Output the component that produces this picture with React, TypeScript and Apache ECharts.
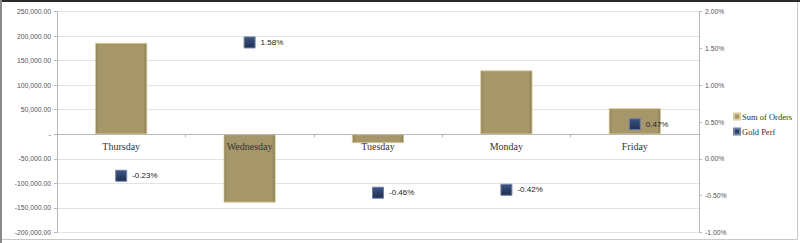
import React, { useEffect, useRef } from "react";
import * as echarts from "echarts";

const categories = ["Thursday", "Wednesday", "Tuesday", "Monday", "Friday"];
const sumOfOrders = [186000, -139000, -18000, 130000, 53000];
const goldPerf = [-0.23, 1.58, -0.46, -0.42, 0.47];

const Y_MIN = -200000;
const Y_MAX = 250000;

export default function App() {
  const ref = useRef<HTMLDivElement>(null);
  useEffect(() => {
    const chart = echarts.init(ref.current!, null, { renderer: "svg" });
    const gridTop = 11.5;
    const gridBottom = 10.5;
    const plotH = 243 - gridTop - gridBottom;
    const zeroFromBottom = (plotH * (0 - Y_MIN)) / (Y_MAX - Y_MIN);
    const barColor = new echarts.graphic.LinearGradient(0, 0, 1, 0, [
      { offset: 0, color: "#8c7e55" },
      { offset: 0.06, color: "#a6976a" },
      { offset: 0.94, color: "#a6976a" },
      { offset: 1, color: "#867850" },
    ]);
    chart.setOption({
      animation: false,
      backgroundColor: "#ffffff",
      graphic: [
        { type: "rect", shape: { x: 1.5, y: 1.5, width: 796, height: 238 }, style: { fill: "none", stroke: "#c8c8c8", lineWidth: 1 }, silent: true },
        { type: "rect", shape: { x: 0, y: 0, width: 800, height: 2 }, style: { fill: "#2a2a2a" }, silent: true },
        { type: "rect", shape: { x: 0, y: 0, width: 2, height: 243 }, style: { fill: "#8a8a8a" }, silent: true },
      ],
      grid: { left: 57, right: 101, top: gridTop, bottom: gridBottom, containLabel: false, outerBoundsMode: "none" },
      legend: {
        orient: "vertical",
        left: 733,
        top: 112,
        padding: 0,
        itemWidth: 6,
        itemHeight: 6,
        itemGap: 6,
        icon: "rect",
        textStyle: { fontFamily: "Liberation Serif", fontSize: 8.5, color: "#333", padding: [0, 0, 0, -3] },
        data: [
          { name: "Sum of Orders", itemStyle: { color: "#a6976a" } },
          { name: "Gold Perf", itemStyle: { color: "#2b3e66" } },
        ],
      },
      xAxis: {
        type: "category",
        data: categories,
        position: "bottom",
        offset: -zeroFromBottom,
        axisLine: { onZero: false, lineStyle: { color: "#b8b8b8" } },
        axisTick: { show: true, length: 3, lineStyle: { color: "#b8b8b8" } },
        axisLabel: { fontFamily: "Liberation Serif", fontSize: 10, color: "#333", margin: 7 },
        splitLine: { show: false },
        z: 5,
      },
      yAxis: [
        {
          type: "value",
          min: Y_MIN,
          max: Y_MAX,
          interval: 50000,
          axisLine: { show: true, lineStyle: { color: "#b8b8b8" } },
          axisTick: { show: true, length: 3, lineStyle: { color: "#b8b8b8" } },
          splitLine: { show: true, lineStyle: { color: "#e3e3e3", width: 1 } },
          axisLabel: {
            fontFamily: "Liberation Sans",
            fontSize: 6.8,
            color: "#555",
            margin: 6,
            formatter: (v: number) =>
              v === 0
                ? "-"
                : v.toLocaleString("en-US", { minimumFractionDigits: 2, maximumFractionDigits: 2 }),
          },
        },
        {
          type: "value",
          min: -1,
          max: 2,
          interval: 0.5,
          position: "right",
          axisLine: { show: true, lineStyle: { color: "#b8b8b8" } },
          axisTick: { show: true, length: 3, lineStyle: { color: "#b8b8b8" } },
          splitLine: { show: false },
          axisLabel: {
            fontFamily: "Liberation Sans",
            fontSize: 6.8,
            color: "#555",
            margin: 6,
            formatter: (v: number) => v.toFixed(2) + "%",
          },
        },
      ],
      series: [
        {
          name: "Sum of Orders",
          type: "bar",
          yAxisIndex: 0,
          barWidth: 52,
          data: sumOfOrders,
          itemStyle: { color: barColor, borderColor: "#d9cc98", borderWidth: 0.8 },
          z: 2,
        },
        {
          name: "Gold Perf",
          type: "scatter",
          yAxisIndex: 1,
          symbol: "rect",
          symbolSize: 11,
          data: goldPerf,
          itemStyle: {
            color: new echarts.graphic.LinearGradient(0, 0, 0, 1, [
              { offset: 0, color: "#3c5584" },
              { offset: 1, color: "#1f2e50" },
            ]),
            borderColor: "#6f82a8",
            borderWidth: 1,
            opacity: 1,
          },
          label: {
            show: true,
            position: "right",
            distance: 5,
            fontFamily: "Liberation Sans",
            fontSize: 8,
            color: "#222",
            formatter: (p: any) => p.value.toFixed(2) + "%",
          },
          z: 6,
        },
      ],
    });
    return () => chart.dispose();
  }, []);
  return (
    <div
      ref={ref}
      style={{ position: "fixed", left: 0, top: 0, width: 800, height: 243 }}
    />
  );
}
